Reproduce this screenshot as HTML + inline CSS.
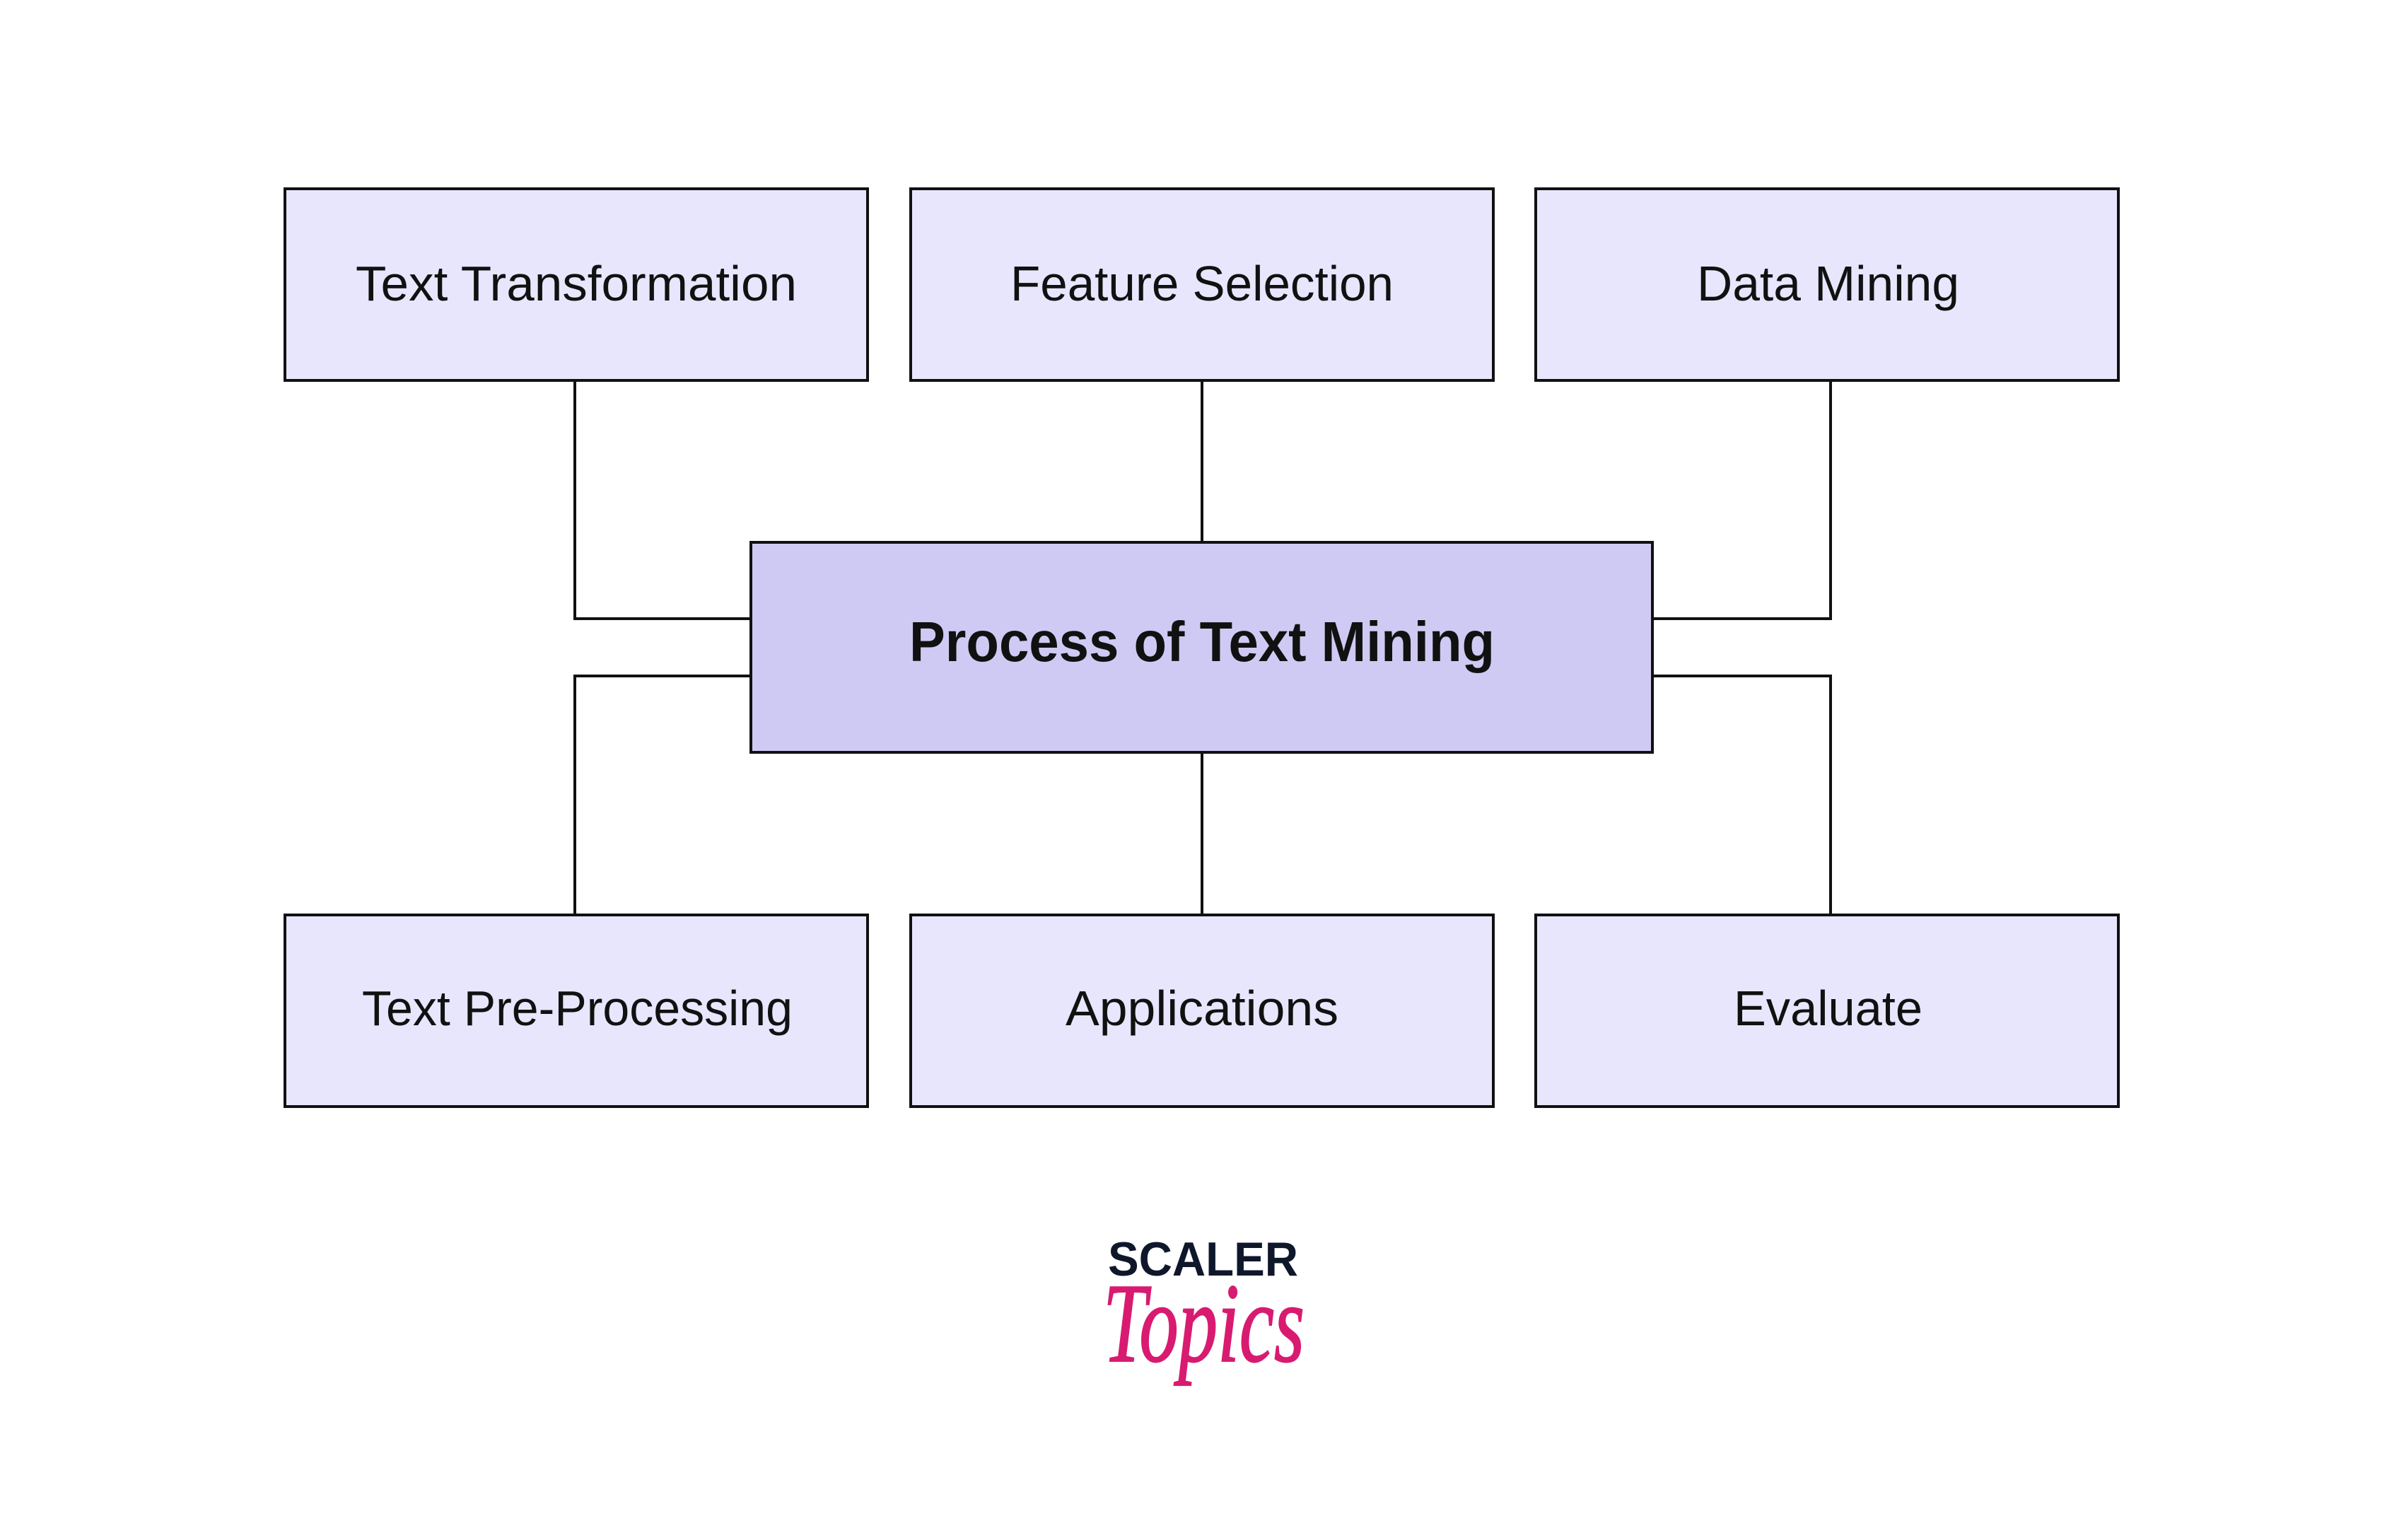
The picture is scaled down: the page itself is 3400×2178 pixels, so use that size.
<!DOCTYPE html>
<html><head><meta charset="utf-8"><style>html,body{margin:0;padding:0;background:#fff}svg{display:block}</style></head>
<body>
<svg width="3400" height="2178" viewBox="0 0 3400 2178" xmlns="http://www.w3.org/2000/svg">
<rect width="3400" height="2178" fill="#fff"/>
<g stroke="#111" stroke-width="4" fill="none">
<path d="M813 538 V875 H1062"/>
<path d="M1700 538 V767"/>
<path d="M2589 538 V875 H2337"/>
<path d="M813 1294 V956 H1062"/>
<path d="M1700 1294 V1064"/>
<path d="M2589 1294 V956 H2337"/>
</g>
<g stroke="#111" stroke-width="4" fill="#e8e6fd">
<rect x="403" y="267" width="824" height="271"/>
<rect x="1288" y="267" width="824" height="271"/>
<rect x="2172" y="267" width="824" height="271"/>
<rect x="403" y="1294" width="824" height="271"/>
<rect x="1288" y="1294" width="824" height="271"/>
<rect x="2172" y="1294" width="824" height="271"/>
</g>
<rect x="1062" y="767" width="1275" height="297" fill="#cfcaf3" stroke="#111" stroke-width="4"/>
<g font-family="Liberation Sans, sans-serif" font-size="70" fill="#111">
<text x="503" y="425" textLength="624" lengthAdjust="spacingAndGlyphs">Text Transformation</text>
<text x="1429" y="425" textLength="542" lengthAdjust="spacingAndGlyphs">Feature Selection</text>
<text x="2400" y="425" textLength="371" lengthAdjust="spacingAndGlyphs">Data Mining</text>
<text x="512" y="1450" textLength="609" lengthAdjust="spacingAndGlyphs">Text Pre-Processing</text>
<text x="1507" y="1450" textLength="386" lengthAdjust="spacingAndGlyphs">Applications</text>
<text x="2452" y="1450" textLength="267" lengthAdjust="spacingAndGlyphs">Evaluate</text>
</g>
<text x="1286" y="935" font-family="Liberation Sans, sans-serif" font-weight="bold" font-size="80" fill="#111" textLength="828" lengthAdjust="spacingAndGlyphs">Process of Text Mining</text>
<text x="1567" y="1804" font-family="Liberation Sans, sans-serif" font-weight="bold" font-size="68" fill="#0f172a" textLength="269" lengthAdjust="spacingAndGlyphs">SCALER</text>
<text x="1560" y="1925" font-family="Liberation Serif, serif" font-style="italic" font-size="160" fill="#d81b70" stroke="#d81b70" stroke-width="2" textLength="285" lengthAdjust="spacingAndGlyphs">Topics</text>
</svg>
</body></html>
